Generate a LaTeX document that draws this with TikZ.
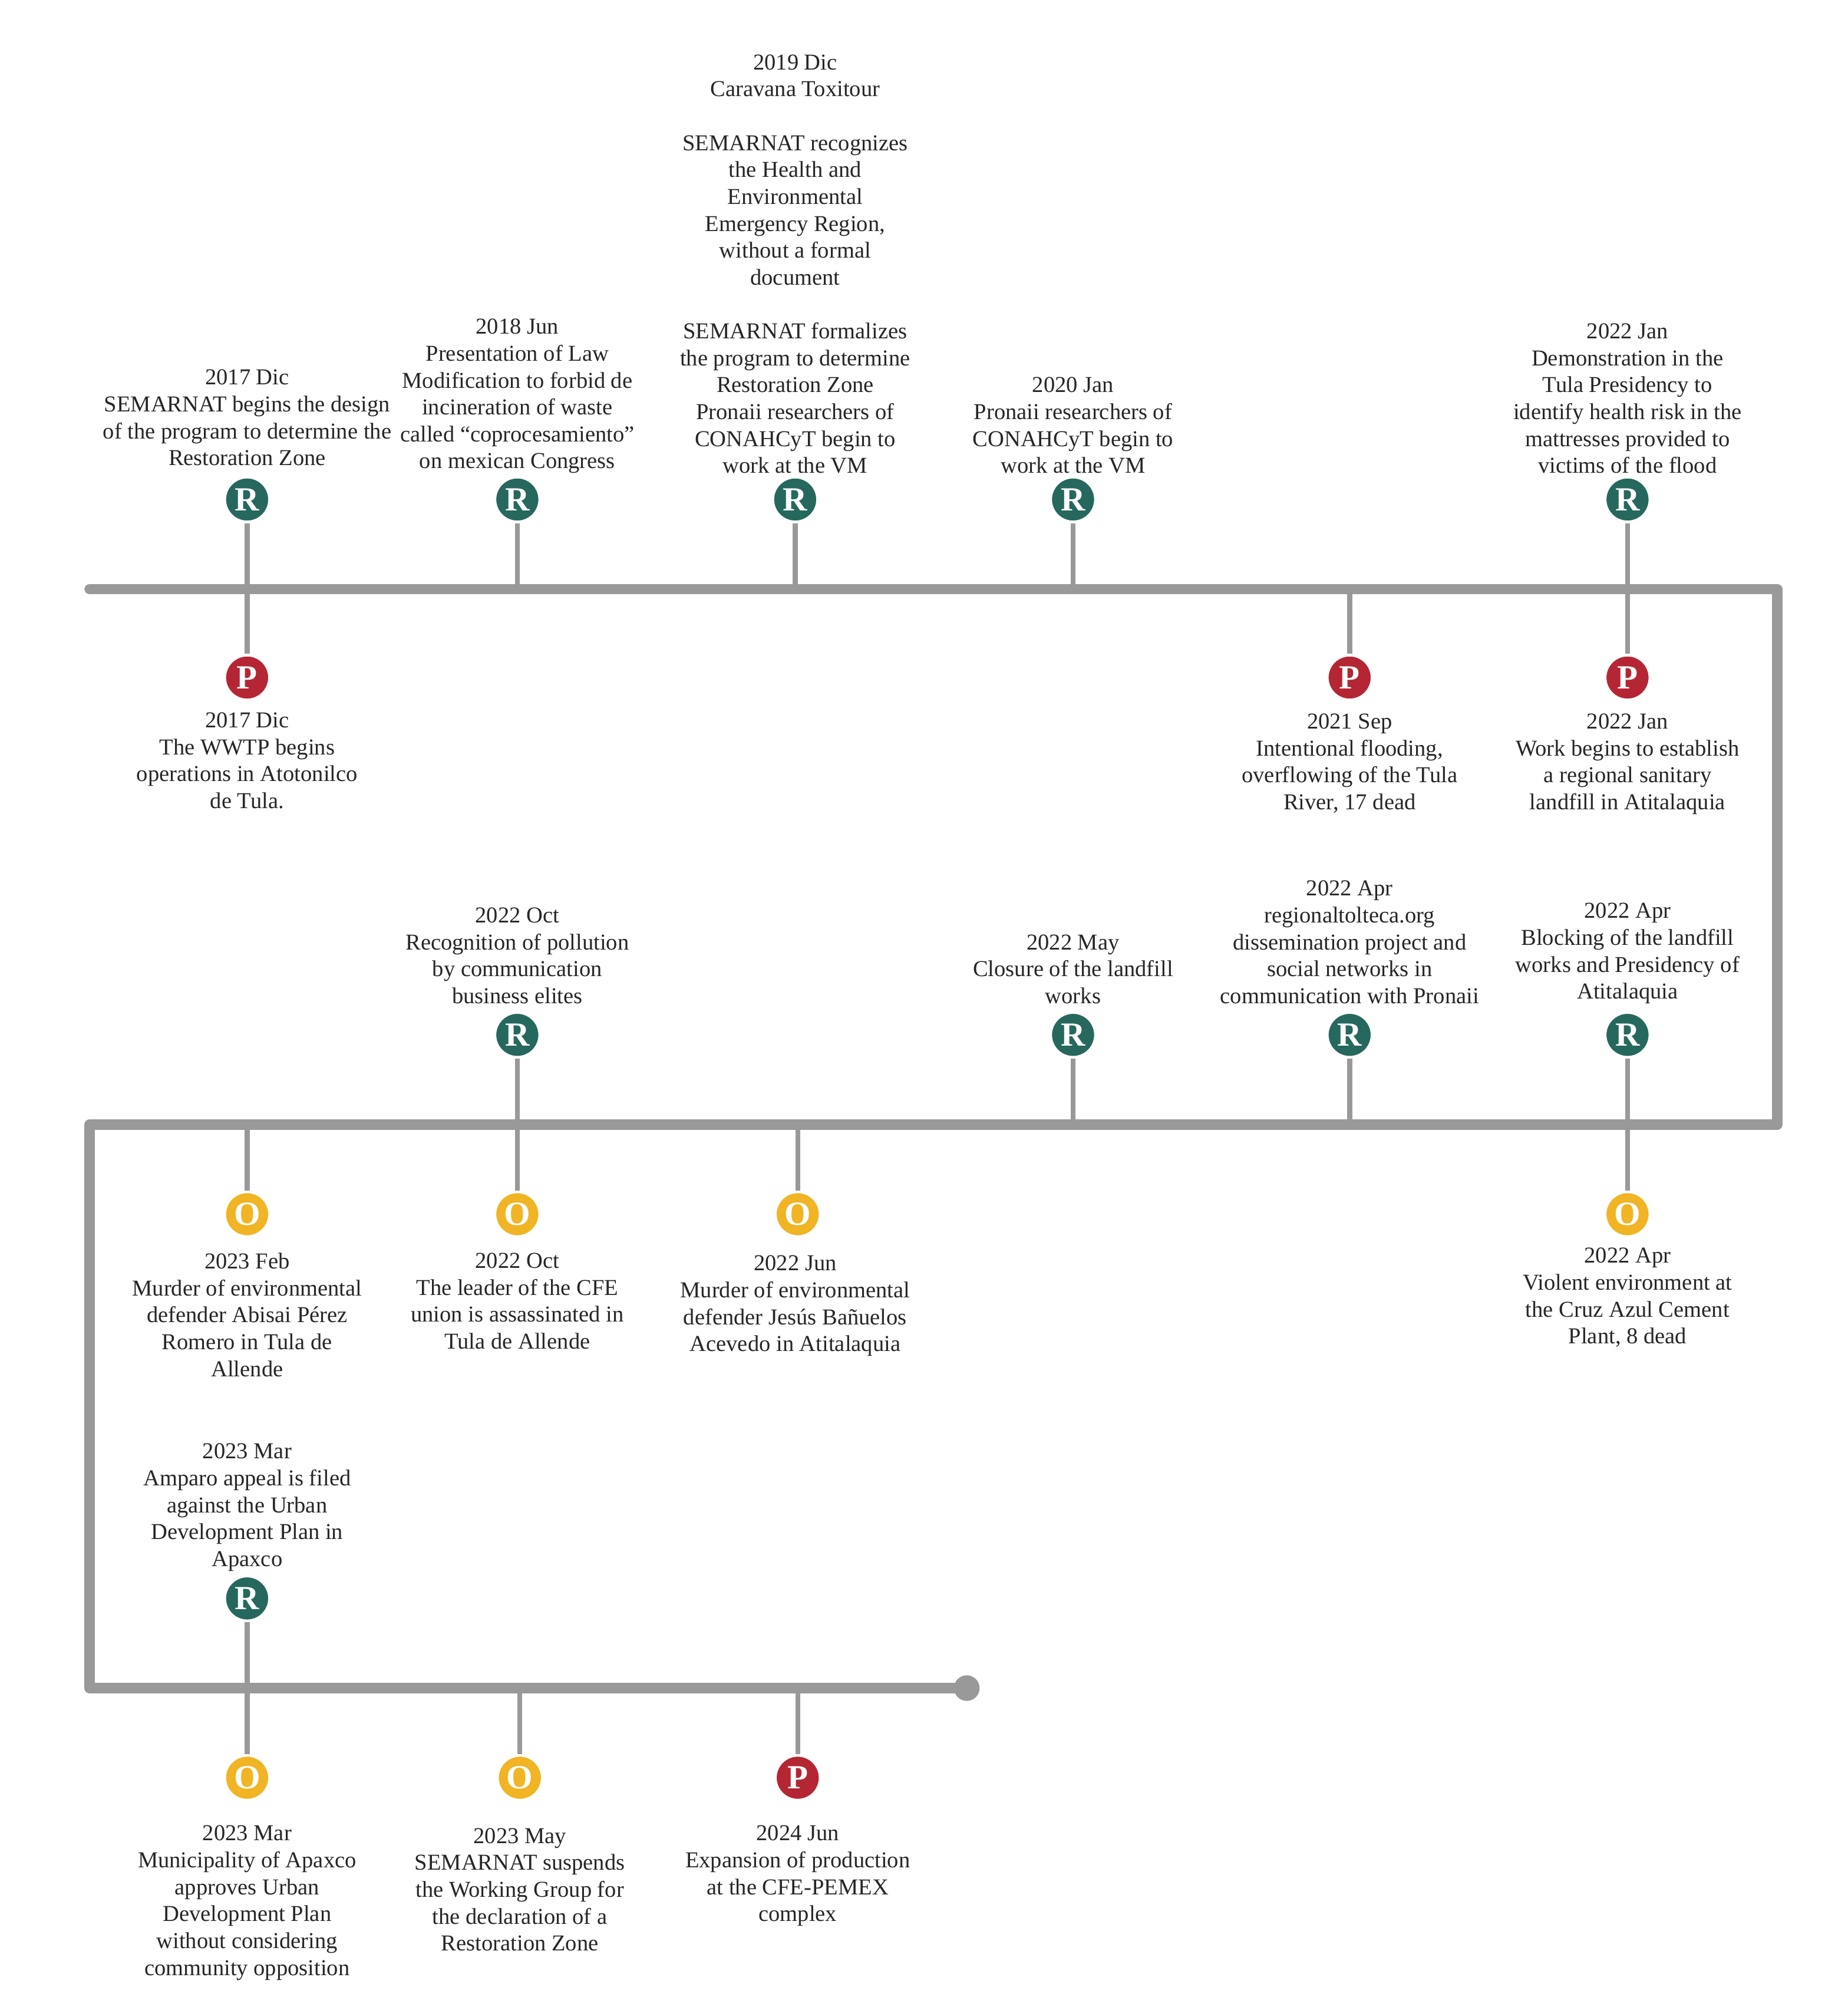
\documentclass[tikz,border=0pt]{standalone}
\usepackage{fontspec}
\setmainfont{Liberation Serif}
\begin{document}
\begin{tikzpicture}[x=0.02cm,y=-0.02cm,
  main/.style={line width=4.6pt,draw=black!40,line cap=round,line join=round},
  stem/.style={line width=2.2pt,draw=black!40},
  dot/.style={circle,minimum size=0.70cm,inner sep=0pt,draw=white,line width=1.2pt,text=white,font=\bfseries\fontsize{15}{15}\selectfont},
  R/.style={dot,fill={rgb,255:red,38;green,104;blue,94}},
  P/.style={dot,fill={rgb,255:red,181;green,38;blue,52}},
  O/.style={dot,fill={rgb,255:red,240;green,180;blue,36}},
  txt/.style={align=center,inner sep=0pt,font=\fontsize{10.1}{11.95}\selectfont,text=black!85},
  up/.style={txt,anchor=south},
  dn/.style={txt,anchor=north}]
\useasboundingbox (0,0) rectangle (1443,1567);
% main line
\coordinate (a) at (70,460); \coordinate (b) at (1388,460);
\coordinate (c) at (1388,878); \coordinate (d) at (70,878);
\coordinate (e) at (70,1318); \coordinate (f) at (755,1318);
\draw[main] (a) -- (b) -- (c) -- (d) -- (e) -- (f);
\fill[black!40] (f) circle (0.2cm);
% row 1 top
\foreach \n/\x in {r1/193,r2/404,r3/621,r4/838,r5/1271}{
  \coordinate (\n l) at (\x,460);
  \node[R] (\n) at (\x,390) {R};
  \draw[stem] (\n) -- (\n l);}
% row 1 bottom
\foreach \n/\x in {p1/193,p2/1054,p3/1271}{
  \coordinate (\n l) at (\x,460);
  \node[P] (\n) at (\x,529) {P};
  \draw[stem] (\n) -- (\n l);}
% row 2 top
\foreach \n/\x in {s1/404,s2/838,s3/1054,s4/1271}{
  \coordinate (\n l) at (\x,878);
  \node[R] (\n) at (\x,808) {R};
  \draw[stem] (\n) -- (\n l);}
% row 2 bottom
\foreach \n/\x in {o1/193,o2/404,o3/623,o4/1271}{
  \coordinate (\n l) at (\x,878);
  \node[O] (\n) at (\x,948) {O};
  \draw[stem] (\n) -- (\n l);}
% row 3
\coordinate (t1l) at (193,1318);
\node[R] (t1) at (193,1248) {R}; \draw[stem] (t1) -- (t1l);
\foreach \n/\x/\s in {u1/193/O,u2/406/O,u3/623/P}{
  \coordinate (\n l) at (\x,1318);
  \node[\s] (\n) at (\x,1388) {\s};
  \draw[stem] (\n) -- (\n l);}
% texts row 1 top
\node[up] (tr1) at (193,364) {2017 Dic\\SEMARNAT begins the design\\of the program to determine the\\Restoration Zone};
\node[up] (tr2) at (404,370) {2018 Jun\\Presentation of Law\\Modification to forbid de\\incineration of waste\\called “coprocesamiento”\\on mexican Congress};
\node[up] (tr3) at (621,370) {2019 Dic\\Caravana Toxitour\\\\SEMARNAT recognizes\\the Health and\\Environmental\\Emergency Region,\\without a formal\\document\\\\SEMARNAT formalizes\\the program to determine\\Restoration Zone\\Pronaii researchers of\\CONAHCyT begin to\\work at the VM};
\node[up] (tr4) at (838,370) {2020 Jan\\Pronaii researchers of\\CONAHCyT begin to\\work at the VM};
\node[up] (tr5) at (1271,370) {2022 Jan\\Demonstration in the\\Tula Presidency to\\identify health risk in the\\mattresses provided to\\victims of the flood};
% row 1 bottom
\node[dn] (tp1) at (193,556) {2017 Dic\\The WWTP begins\\operations in Atotonilco\\de Tula.};
\node[dn] (tp2) at (1054,557) {2021 Sep\\Intentional flooding,\\overflowing of the Tula\\River, 17 dead};
\node[dn] (tp3) at (1271,557) {2022 Jan\\Work begins to establish\\a regional sanitary\\landfill in Atitalaquia};
% row 2 top
\node[up] (ts1) at (404,784) {2022 Oct\\Recognition of pollution\\by communication\\business elites};
\node[up] (ts2) at (838,784) {2022 May\\Closure of the landfill\\works};
\node[up] (ts3) at (1054,784) {2022 Apr\\regionaltolteca.org\\dissemination project and\\social networks in\\communication with Pronaii};
\node[up] (ts4) at (1271,784) {2022 Apr\\Blocking of the landfill\\works and Presidency of\\Atitalaquia};
% row 2 bottom
\node[dn] (to1) at (193,978) {2023 Feb\\Murder of environmental\\defender Abisai Pérez\\Romero in Tula de\\Allende};
\node[dn] (to2) at (404,978) {2022 Oct\\The leader of the CFE\\union is assassinated in\\Tula de Allende};
\node[dn] (to3) at (621,980) {2022 Jun\\Murder of environmental\\defender Jesús Bañuelos\\Acevedo in Atitalaquia};
\node[dn] (to4) at (1271,974) {2022 Apr\\Violent environment at\\the Cruz Azul Cement\\Plant, 8 dead};
% row 3
\node[up] (tt1) at (193,1227) {2023 Mar\\Amparo appeal is filed\\against the Urban\\Development Plan in\\Apaxco};
\node[dn] (tu1) at (193,1425) {2023 Mar\\Municipality of Apaxco\\approves Urban\\Development Plan\\without considering\\community opposition};
\node[dn] (tu2) at (406,1427) {2023 May\\SEMARNAT suspends\\the Working Group for\\the declaration of a\\Restoration Zone};
\node[dn] (tu3) at (623,1425) {2024 Jun\\Expansion of production\\at the CFE-PEMEX\\complex};
\end{tikzpicture}
\end{document}
